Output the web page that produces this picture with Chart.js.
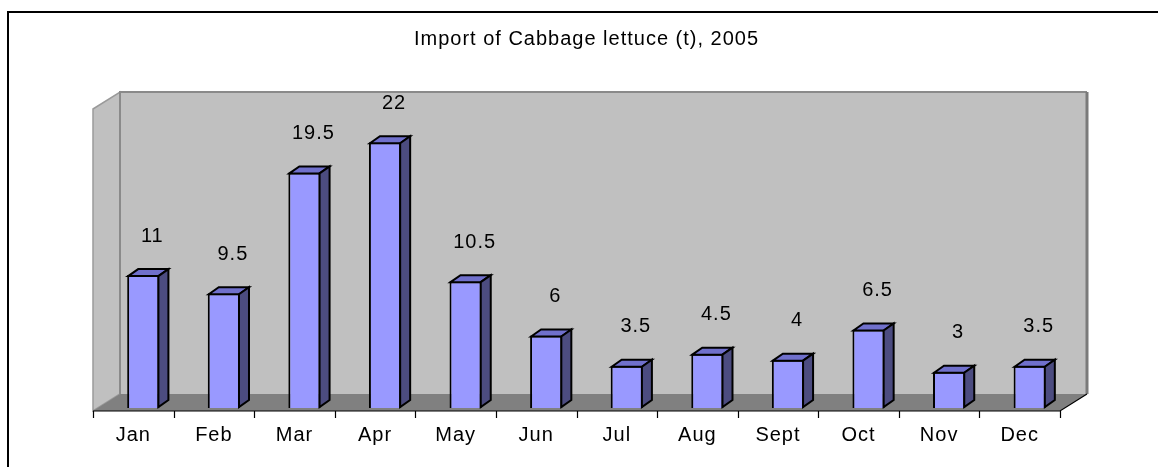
<!DOCTYPE html>
<html>
<head>
<meta charset="utf-8">
<script src="https://cdn.jsdelivr.net/npm/chart.js@4/dist/chart.umd.min.js"></script>
<style>
  html, body { margin: 0; padding: 0; background: #fff; }
  #results_plot { display: block; }
</style>
</head>
<body>
<canvas id="results_plot" width="1158" height="467"></canvas>
<script>
'use strict';

// Data
const months = ['Jan', 'Feb', 'Mar', 'Apr', 'May', 'Jun', 'Jul', 'Aug', 'Sept', 'Oct', 'Nov', 'Dec'];
const importTonnes = [11, 9.5, 19.5, 22, 10.5, 6, 3.5, 4.5, 4, 6.5, 3, 3.5];
const valueAxisRange = [0, 25];
const chartTitle = 'Import of Cabbage lettuce (t), 2005';

const FONT = 'Liberation Sans, Arial, sans-serif';

// Depth of the "3D" box and of each bar (in pixels)
const WALL_DX = 27, WALL_DY = -17;
const BAR_DX = 10, BAR_DY = -7;
const FLOOR_SHIFT_X = -10, FLOOR_SHIFT_Y = 3;

// Draws the frame, walls, floor and axis ticks behind the bars
const boxPlugin = {
    id: 'box3d',
    beforeDraw(chart) {
        chart.ctx.letterSpacing = '1px';
    },
    beforeDatasetsDraw(chart) {
        const ctx = chart.ctx;
        const xs = chart.scales.x;
        const ys = chart.scales.y;
        const cw = (xs.right - xs.left) / months.length;

        const fx0 = xs.left + FLOOR_SHIFT_X;
        const fx1 = xs.right + FLOOR_SHIFT_X;
        const fy = ys.getPixelForValue(valueAxisRange[0]) + FLOOR_SHIFT_Y;
        const fTop = ys.getPixelForValue(valueAxisRange[1]) + FLOOR_SHIFT_Y;

        ctx.save();
        // outer frame
        ctx.strokeStyle = '#000';
        ctx.lineWidth = 2;
        ctx.strokeRect(8, 12, 1300, 600);

        // back wall
        ctx.fillStyle = '#c0c0c0';
        ctx.fillRect(fx0 + WALL_DX, fTop + WALL_DY, fx1 - fx0, fy - fTop);
        // side wall
        ctx.beginPath();
        ctx.moveTo(fx0, fTop);
        ctx.lineTo(fx0 + WALL_DX, fTop + WALL_DY);
        ctx.lineTo(fx0 + WALL_DX, fy + WALL_DY);
        ctx.lineTo(fx0, fy);
        ctx.closePath();
        ctx.fill();
        ctx.strokeStyle = '#9a9a9a';
        ctx.lineWidth = 1.5;
        ctx.stroke();
        // back wall edges
        ctx.beginPath();
        ctx.moveTo(fx0 + WALL_DX, fy + WALL_DY);
        ctx.lineTo(fx0 + WALL_DX, fTop + WALL_DY);
        ctx.lineTo(fx1 + WALL_DX, fTop + WALL_DY);
        ctx.strokeStyle = '#8a8a8a';
        ctx.lineWidth = 2;
        ctx.stroke();
        ctx.beginPath();
        ctx.moveTo(fx1 + WALL_DX, fTop + WALL_DY);
        ctx.lineTo(fx1 + WALL_DX, fy + WALL_DY);
        ctx.strokeStyle = '#7a7a7a';
        ctx.lineWidth = 3;
        ctx.stroke();

        // floor
        ctx.beginPath();
        ctx.moveTo(fx0, fy);
        ctx.lineTo(fx1, fy);
        ctx.lineTo(fx1 + WALL_DX, fy + WALL_DY);
        ctx.lineTo(fx0 + WALL_DX, fy + WALL_DY);
        ctx.closePath();
        ctx.fillStyle = '#808080';
        ctx.fill();

        // axis line, right floor edge and tick marks
        ctx.strokeStyle = '#000';
        ctx.lineWidth = 1.2;
        ctx.beginPath();
        ctx.moveTo(fx0, fy);
        ctx.lineTo(fx1, fy);
        ctx.lineTo(fx1 + WALL_DX, fy + WALL_DY);
        for (let k = 0; k <= months.length; k++) {
            const tx = Math.round(xs.getPixelForValue(0) - cw / 2 + k * cw + FLOOR_SHIFT_X) + 0.5;
            ctx.moveTo(tx, fy);
            ctx.lineTo(tx, fy + 7);
        }
        ctx.stroke();
        ctx.restore();
    },
    afterDatasetsDraw(chart) {
        const ctx = chart.ctx;
        const meta = chart.getDatasetMeta(0);
        ctx.save();
        ctx.lineWidth = 2;
        ctx.strokeStyle = '#000';
        ctx.lineJoin = 'miter';
        meta.data.forEach((bar, i) => {
            const l = bar.x - bar.width / 2;
            const r = bar.x + bar.width / 2;
            const t = bar.y;
            const b = bar.base;
            // top face
            ctx.beginPath();
            ctx.moveTo(l + 1, t + 1);
            ctx.lineTo(l + 1 + BAR_DX, t + 1 + BAR_DY);
            ctx.lineTo(r - 1 + BAR_DX, t + 1 + BAR_DY);
            ctx.lineTo(r - 1, t + 1);
            ctx.closePath();
            ctx.fillStyle = '#7070cc';
            ctx.fill();
            ctx.stroke();
            // side face
            ctx.beginPath();
            ctx.moveTo(r - 1, t + 1);
            ctx.lineTo(r - 1 + BAR_DX, t + 1 + BAR_DY);
            ctx.lineTo(r - 1 + BAR_DX, b - 1 + BAR_DY);
            ctx.lineTo(r - 1, b - 1);
            ctx.closePath();
            ctx.fillStyle = '#4c4c80';
            ctx.fill();
            ctx.stroke();

            // value label
            ctx.fillStyle = '#000';
            ctx.font = '20px ' + FONT;
            ctx.textAlign = 'center';
            ctx.textBaseline = 'middle';
            ctx.fillText(String(importTonnes[i]), bar.x + 9, t - 39);
        });
        ctx.restore();
    }
};

const data = {
    labels: months,
    datasets: [{
        data: importTonnes,
        backgroundColor: '#9999ff',
        borderColor: '#000',
        borderWidth: 2,
        barPercentage: 0.4,
        categoryPercentage: 1.0
    }]
};

const config = {
    type: 'bar',
    data: data,
    plugins: [boxPlugin],
    options: {
        responsive: false,
        animation: false,
        devicePixelRatio: 1,
        layout: {
            padding: { left: 103, right: 88, top: 0, bottom: 0 }
        },
        plugins: {
            legend: { display: false },
            tooltip: { enabled: false },
            title: {
                display: true,
                text: chartTitle,
                color: '#000',
                font: { family: FONT, size: 20, weight: 'normal' },
                padding: { top: 27, bottom: 55 }
            }
        },
        scales: {
            x: {
                grid: { display: false, drawTicks: false },
                border: { display: false },
                ticks: {
                    color: '#000',
                    font: { family: FONT, size: 20 },
                    padding: 15,
                    labelOffset: -10,
                    maxRotation: 0,
                    autoSkip: false
                },
                afterFit(scale) { scale.height = 59; }
            },
            y: {
                display: false,
                min: valueAxisRange[0],
                max: valueAxisRange[1]
            }
        }
    }
};

new Chart(document.getElementById('results_plot'), config);
</script>
</body>
</html>
